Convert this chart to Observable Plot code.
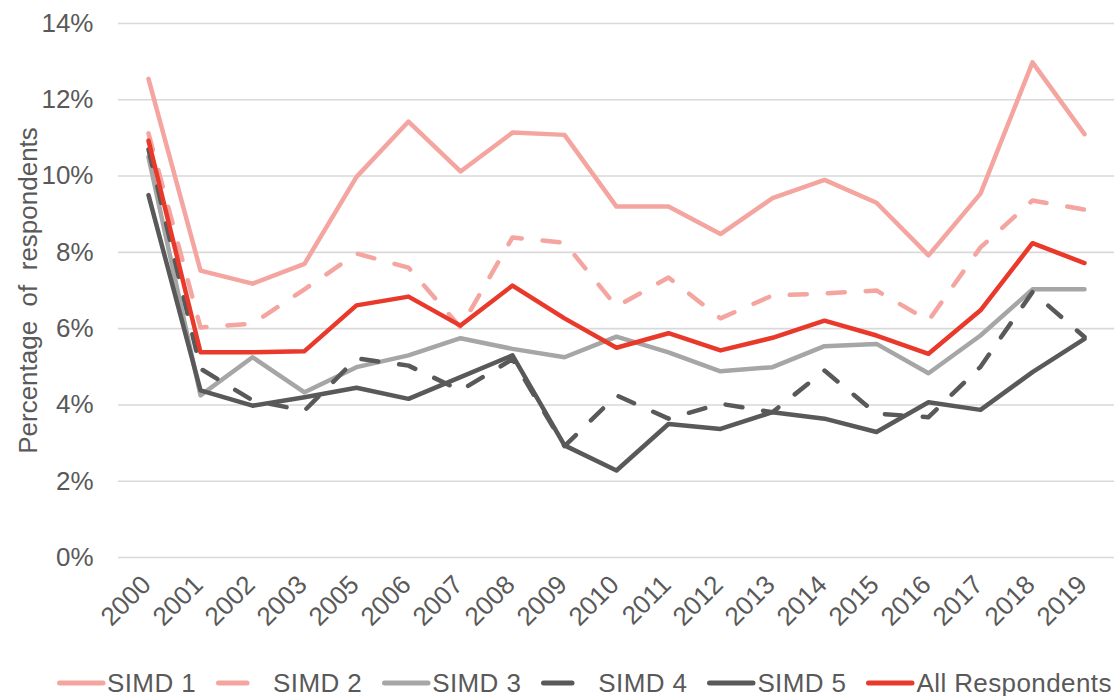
<!DOCTYPE html>
<html>
<head>
<meta charset="utf-8">
<script src="https://cdn.jsdelivr.net/npm/d3@7"></script>
<script src="https://cdn.jsdelivr.net/npm/@observablehq/plot@0.6"></script>
<style>
  html, body { margin: 0; padding: 0; background: #fff; }
  body { width: 1114px; height: 696px; overflow: hidden; font-family: "Liberation Sans", Arial, sans-serif; }
  #legend { display: flex; align-items: center; padding-left: 57px; margin-top: 29px; height: 28px; font-size: 26px; letter-spacing: 0.4px; color: #595959; line-height: 28px; white-space: nowrap; }
  #legend .item { display: flex; align-items: center; margin-right: 20px; }
  #legend svg { display: block; }
</style>
</head>
<body>
<div id="chart"></div>
<div id="legend"></div>
<script>
const years = ["2000","2001","2002","2003","2005","2006","2007","2008","2009","2010","2011","2012","2013","2014","2015","2016","2017","2018","2019"];
const simd1 = [12.55, 7.52, 7.18, 7.70, 9.98, 11.43, 10.12, 11.14, 11.08, 9.20, 9.20, 8.48, 9.42, 9.90, 9.30, 7.92, 9.54, 12.98, 11.10];
const simd2 = [11.12, 6.03, 6.13, 7.03, 7.97, 7.60, 6.03, 8.39, 8.25, 6.58, 7.34, 6.27, 6.87, 6.92, 7.00, 6.21, 8.13, 9.36, 9.12];
const simd3 = [10.50, 4.25, 5.25, 4.33, 4.99, 5.30, 5.75, 5.47, 5.25, 5.79, 5.38, 4.88, 4.99, 5.54, 5.60, 4.83, 5.82, 7.03, 7.03];
const simd4 = [10.70, 4.95, 4.12, 3.85, 5.22, 5.03, 4.38, 5.20, 2.92, 4.25, 3.64, 4.03, 3.81, 4.90, 3.77, 3.68, 5.00, 6.96, 5.78];
const simd5 = [9.50, 4.38, 3.98, 4.20, 4.45, 4.16, 4.73, 5.30, 2.94, 2.28, 3.50, 3.37, 3.81, 3.64, 3.29, 4.07, 3.87, 4.86, 5.73];
const allResp = [10.93, 5.38, 5.38, 5.41, 6.61, 6.84, 6.08, 7.13, 6.27, 5.50, 5.88, 5.43, 5.76, 6.21, 5.82, 5.34, 6.48, 8.24, 7.72];
const yTicks = [0, 2, 4, 6, 8, 10, 12, 14];
const seriesNames = ["SIMD 1", "SIMD 2", "SIMD 3", "SIMD 4", "SIMD 5", "All Respondents"];
const seriesValues = [simd1, simd2, simd3, simd4, simd5, allResp];
const seriesColors = ["#F4A5A0", "#F4A5A0", "#A6A6A6", "#595959", "#595959", "#E8392B"];
const seriesDashed = [false, true, false, true, false, false];

const W = 4.5;
const dash = "17,21";

const lineMarks = seriesNames.map((name, k) => {
  const rows = years.map((y, i) => ({year: y, value: seriesValues[k][i], series: name}));
  return Plot.line(rows, {
    x: "year", y: "value",
    stroke: seriesColors[k],
    strokeWidth: W,
    strokeDasharray: seriesDashed[k] ? dash : null,
    strokeLinecap: "round",
    strokeLinejoin: "round"
  });
});

const chart = Plot.plot({
  width: 1114,
  height: 640,
  marginTop: 23,
  marginBottom: 83,
  marginLeft: 118,
  marginRight: 0,
  style: {fontFamily: '"Liberation Sans", Arial, sans-serif', fontSize: "26px", color: "#595959", background: "#fff", overflow: "visible"},
  x: {type: "point", domain: years, padding: 0.5},
  y: {domain: [0, 14]},
  marks: [
    Plot.gridY(yTicks, {stroke: "#D9D9D9", strokeOpacity: 1, strokeWidth: 1.6}),
    Plot.axisY(yTicks, {tickSize: 0, tickPadding: 25, tickFormat: d => d + "%", fontSize: 26,
      label: "Percentage  of  respondents", labelAnchor: "center", labelArrow: "none", labelOffset: 100}),
    Plot.axisX({tickSize: 0, tickRotate: -45, tickPadding: 23, dx: -2, fontSize: 26, label: null}),
    ...lineMarks
  ]
});
document.getElementById("chart").appendChild(chart);

const legend = document.getElementById("legend");
seriesNames.forEach((name, k) => {
  const item = document.createElement("div");
  item.className = "item";
  const sw = seriesDashed[k] ? 57 : 50;
  const ns = "http://www.w3.org/2000/svg";
  const svg = document.createElementNS(ns, "svg");
  svg.setAttribute("width", sw);
  svg.setAttribute("height", 12);
  const ln = document.createElementNS(ns, "line");
  ln.setAttribute("x1", 2.5);
  ln.setAttribute("x2", seriesDashed[k] ? 31 : 46);
  ln.setAttribute("y1", 6);
  ln.setAttribute("y2", 6);
  ln.setAttribute("stroke", seriesColors[k]);
  ln.setAttribute("stroke-width", 5);
  ln.setAttribute("stroke-linecap", "round");
  svg.appendChild(ln);
  const txt = document.createElement("span");
  txt.textContent = name;
  item.appendChild(svg);
  item.appendChild(txt);
  legend.appendChild(item);
});
</script>
</body>
</html>
